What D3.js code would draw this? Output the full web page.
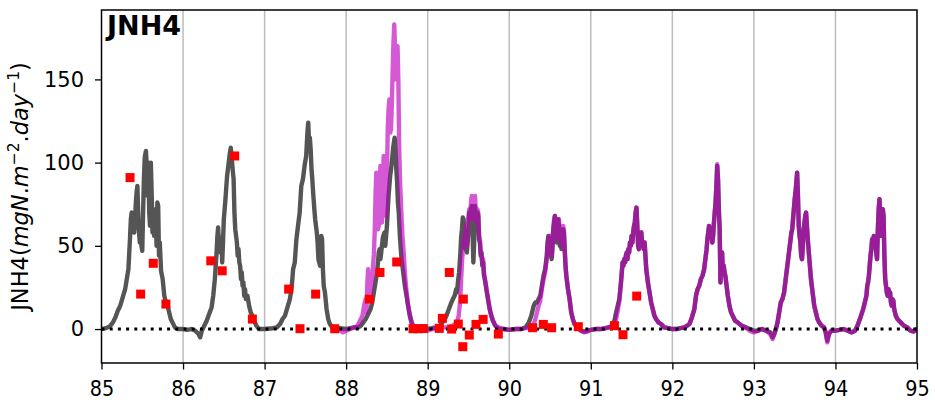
<!DOCTYPE html>
<html>
<head>
<meta charset="utf-8">
<script src="https://cdn.jsdelivr.net/npm/d3@7"></script>
<style>
  html, body { margin: 0; padding: 0; background: #fff; }
  svg { display: block; }
  text { font-family: "DejaVu Sans", sans-serif; }
</style>
</head>
<body>
<svg id="chart" width="935" height="405"></svg>
<script>
// ---------------- DATA ----------------
const chartTitle = "JNH4";
const xTicks = [85, 86, 87, 88, 89, 90, 91, 92, 93, 94, 95];
const yTicks = [0, 50, 100, 150];

// Model run 1 (grey) : [year, value]
const runGrey = [
[85.00,0],[85.05,0.5],[85.10,1.5],[85.14,4],[85.17,7],[85.20,11],[85.23,14],[85.26,19],[85.29,24],[85.31,30],[85.33,36],
[85.35,55],[85.36,66],[85.37,70],[85.38,60],[85.39,66],[85.40,58],[85.41,64],[85.42,75],[85.43,82],[85.44,86],[85.45,70],
[85.46,58],[85.47,52],[85.48,60],[85.49,50],[85.50,47],[85.51,70],[85.52,90],[85.53,103],[85.545,107],[85.555,98],[85.565,80],
[85.575,100],[85.585,70],[85.595,62],[85.605,100],[85.615,82],[85.625,58],[85.635,72],[85.645,56],[85.655,62],[85.665,72],
[85.675,50],[85.685,76],[85.695,74],[85.705,44],[85.715,52],[85.73,35],[85.75,30],[85.77,20],[85.79,16],[85.81,14],[85.83,10],
[85.85,6],[85.87,4],[85.90,1],[85.93,0],[86.00,0],[86.05,-0.5],[86.10,0],[86.15,-1],[86.19,-3],[86.21,-5],[86.23,-1],[86.26,2],
[86.29,5],[86.32,9],[86.35,13],[86.37,20],[86.39,30],[86.41,45],[86.42,55],[86.43,61],[86.44,52],[86.45,48],[86.46,46],[86.47,55],
[86.48,40],[86.49,52],[86.50,66],[86.52,78],[86.54,92],[86.56,100],[86.575,106],[86.585,109],[86.595,104],[86.61,95],[86.62,90],
[86.63,70],[86.64,60],[86.65,56],[86.66,52],[86.67,44],[86.68,48],[86.69,40],[86.70,38],[86.71,30],[86.72,34],[86.73,26],[86.74,28],
[86.75,20],[86.76,24],[86.77,18],[86.79,20],[86.81,14],[86.83,10],[86.85,8],[86.87,5],[86.90,2],[86.93,0],[87.00,0],[87.10,0.5],
[87.15,1],[87.19,3],[87.22,6],[87.25,8],[87.28,13],[87.31,18],[87.33,24],[87.35,36],[87.37,40],[87.39,54],[87.41,62],[87.43,70],
[87.45,86],[87.47,90],[87.49,98],[87.51,104],[87.525,118],[87.535,124],[87.545,112],[87.555,115],[87.565,108],[87.575,96],[87.585,90],
[87.595,82],[87.61,72],[87.62,66],[87.63,62],[87.64,58],[87.65,52],[87.66,42],[87.67,40],[87.68,38],[87.695,56],[87.705,54],[87.715,36],
[87.725,26],[87.74,22],[87.76,12],[87.78,6],[87.80,3],[87.83,1],[87.87,0],[87.92,0.5],[88.00,0],[88.05,0.5],[88.10,1],[88.15,1],
[88.18,2],[88.21,4],[88.24,6],[88.27,9],[88.30,12],[88.32,16],[88.34,22],[88.36,28],[88.38,34],[88.40,46],[88.41,48],[88.42,42],
[88.43,46],[88.45,55],[88.47,58],[88.48,50],[88.50,62],[88.52,80],[88.54,92],[88.56,100],[88.575,108],[88.585,112],[88.595,115],
[88.605,108],[88.615,96],[88.625,88],[88.635,76],[88.645,70],[88.66,55],[88.67,48],[88.68,42],[88.69,38],[88.70,34],[88.72,26],
[88.74,20],[88.76,14],[88.78,8],[88.80,4],[88.83,1],[88.87,0],[88.92,0],[88.98,0],[89.05,0.5],[89.10,1],[89.15,2],[89.18,4],
[89.21,6],[89.23,8],[89.26,12],[89.29,16],[89.31,18],[89.33,20],[89.35,24],[89.36,22],[89.37,28],[89.385,34],[89.40,45],[89.41,55],
[89.42,60],[89.43,67],[89.44,66],[89.45,55],[89.46,48],[89.47,56],[89.48,46],[89.49,52],[89.50,60],[89.51,70],[89.52,64],[89.53,72],
[89.54,74],[89.55,58],[89.56,40],[89.57,52],[89.58,74],[89.59,64],[89.60,60],[89.61,70],[89.62,68],[89.63,54],[89.64,52],[89.65,44],
[89.66,46],[89.67,38],[89.68,40],[89.69,32],[89.70,30],[89.72,24],[89.74,18],[89.76,12],[89.78,8],[89.80,5],[89.83,2],[89.87,0],
[89.93,0],[90.00,-0.5],[90.08,0],[90.15,0],[90.20,1],[90.24,4],[90.27,8],[90.30,14],[90.32,16],[90.34,16],[90.36,18],[90.38,20],
[90.40,26],[90.42,32],[90.44,36],[90.46,44],[90.47,52],[90.48,56],[90.49,50],[90.50,54],[90.51,45],[90.52,42],[90.53,48],[90.54,60],
[90.55,64],[90.56,68],[90.57,62],[90.58,52],[90.59,58],[90.60,66],[90.61,62],[90.62,50],[90.63,56],[90.64,48],[90.65,56],[90.66,60],
[90.67,58],[90.68,48],[90.69,38],[90.70,32],[90.72,24],[90.74,18],[90.76,10],[90.78,6],[90.80,3],[90.84,1],[90.88,-1],[90.92,-1.5],
[90.96,-1],[91.00,-0.5],[91.06,0],[91.12,0],[91.18,0.5],[91.22,1],[91.26,2],[91.29,5],[91.31,10],[91.33,14],[91.35,18],[91.37,28],
[91.38,34],[91.39,40],[91.40,38],[91.41,42],[91.42,40],[91.43,44],[91.44,46],[91.45,42],[91.46,48],[91.47,46],[91.48,52],[91.49,50],
[91.50,56],[91.51,52],[91.52,58],[91.53,62],[91.54,64],[91.55,70],[91.56,73],[91.57,62],[91.58,50],[91.59,48],[91.60,56],[91.61,52],
[91.62,58],[91.63,50],[91.64,52],[91.65,48],[91.66,52],[91.67,44],[91.68,36],[91.69,32],[91.70,28],[91.72,22],[91.74,16],[91.76,12],
[91.78,8],[91.80,6],[91.83,4],[91.86,3],[91.90,1],[91.95,0.5],[92.00,0],[92.05,0],[92.10,0.5],[92.15,1],[92.18,2],[92.21,3],
[92.24,7],[92.27,12],[92.29,20],[92.31,24],[92.33,26],[92.35,30],[92.37,32],[92.39,36],[92.41,44],[92.42,48],[92.43,54],[92.44,58],
[92.45,62],[92.46,60],[92.47,56],[92.48,58],[92.49,52],[92.50,56],[92.51,64],[92.52,70],[92.53,76],[92.54,86],[92.55,98],[92.56,90],
[92.57,72],[92.58,60],[92.59,28],[92.60,42],[92.61,46],[92.62,34],[92.63,38],[92.64,34],[92.65,32],[92.66,28],[92.67,24],[92.68,20],
[92.70,14],[92.72,10],[92.74,8],[92.77,5],[92.80,4],[92.85,2],[92.90,1],[92.95,0],[93.00,-1],[93.05,-1],[93.10,0],[93.15,-1],
[93.20,-2],[93.23,-5],[93.25,-3],[93.27,0],[93.29,4],[93.31,10],[93.33,16],[93.35,18],[93.37,22],[93.39,30],[93.41,38],[93.42,42],
[93.43,46],[93.44,50],[93.45,54],[93.46,58],[93.47,60],[93.48,66],[93.49,72],[93.50,78],[93.51,82],[93.52,88],[93.53,94],[93.54,80],
[93.55,62],[93.56,56],[93.57,52],[93.58,44],[93.59,42],[93.60,50],[93.61,60],[93.62,64],[93.63,68],[93.64,70],[93.65,62],[93.66,54],
[93.67,48],[93.68,42],[93.69,36],[93.70,30],[93.72,22],[93.74,14],[93.76,10],[93.78,6],[93.80,4],[93.83,2],[93.86,1],[93.88,-2],
[93.90,-7],[93.92,-3],[93.95,-1],[94.00,-1],[94.05,-0.5],[94.10,0],[94.15,-1],[94.20,-2],[94.24,-1],[94.27,2],[94.30,6],[94.32,9],
[94.34,12],[94.36,16],[94.38,20],[94.39,26],[94.40,28],[94.41,32],[94.42,38],[94.43,44],[94.44,48],[94.45,54],[94.46,50],[94.47,56],
[94.48,54],[94.49,52],[94.50,46],[94.51,42],[94.52,60],[94.53,72],[94.54,78],[94.55,64],[94.56,56],[94.57,62],[94.58,72],[94.59,68],
[94.60,44],[94.61,30],[94.62,26],[94.63,22],[94.64,20],[94.65,24],[94.66,20],[94.67,22],[94.68,16],[94.69,14],[94.70,18],[94.71,17],
[94.72,12],[94.74,8],[94.76,6],[94.78,5],[94.80,4],[94.84,2],[94.88,1],[94.92,-1],[94.96,-1.5],[95.00,0]
];

// Model run 2 (magenta, semi-transparent) : [year, value]
const runMagenta = [
[87.90,0],[87.93,-1],[87.96,-2],[88.00,-1],[88.05,0],[88.10,1],[88.14,2],[88.17,5],[88.20,8],[88.22,14],[88.24,18],[88.25,10],
[88.26,28],[88.27,36],[88.28,24],[88.30,22],[88.32,30],[88.34,45],[88.35,58],[88.36,80],[88.37,94],[88.38,70],[88.39,60],[88.40,62],
[88.41,82],[88.42,98],[88.43,80],[88.44,64],[88.45,88],[88.46,104],[88.47,96],[88.48,72],[88.49,68],[88.50,90],[88.51,120],[88.52,132],
[88.53,138],[88.54,118],[88.55,120],[88.56,135],[88.57,155],[88.58,172],[88.59,183],[88.60,168],[88.61,150],[88.62,160],[88.63,170],
[88.64,150],[88.65,110],[88.66,90],[88.67,78],[88.68,66],[88.69,56],[88.70,50],[88.71,42],[88.72,34],[88.73,28],[88.74,23],[88.76,14],
[88.78,9],[88.80,5],[88.82,2],[88.85,0],[88.90,0],[88.95,-0.5],[89.00,-1],[89.05,0],[89.10,0],[89.15,0.5],[89.20,1],[89.25,1],
[89.30,2],[89.34,3],[89.36,4],[89.38,8],[89.40,18],[89.41,30],[89.42,40],[89.43,47],[89.44,52],[89.45,56],[89.46,55],[89.47,62],
[89.48,50],[89.49,64],[89.50,68],[89.51,72],[89.52,66],[89.53,76],[89.54,80],[89.55,72],[89.56,66],[89.57,74],[89.58,80],[89.59,70],
[89.60,64],[89.61,72],[89.62,70],[89.63,56],[89.64,54],[89.65,46],[89.66,44],[89.67,40],[89.68,42],[89.69,34],[89.70,31],[89.72,24],
[89.74,18],[89.76,12],[89.78,8],[89.80,5],[89.83,2],[89.87,1],[89.93,0],[90.00,-0.5],[90.08,0],[90.15,0],[90.20,0.5],[90.25,1],
[90.28,2],[90.30,3],[90.32,6],[90.34,10],[90.36,14],[90.38,17],[90.40,24],[90.42,30],[90.44,34],[90.46,42],[90.47,50],[90.48,55],
[90.49,52],[90.50,56],[90.51,50],[90.52,44],[90.53,52],[90.54,60],[90.55,66],[90.56,68],[90.57,60],[90.58,54],[90.59,58],[90.60,64],
[90.61,66],[90.62,54],[90.63,58],[90.64,50],[90.65,56],[90.66,62],[90.67,60],[90.68,48],[90.69,38],[90.70,32],[90.72,24],[90.74,18],
[90.76,10],[90.78,6],[90.80,3],[90.84,1],[90.88,-1],[90.92,-2],[90.96,-1.5],[91.00,-0.5],[91.06,0],[91.12,0],[91.18,0.5],[91.22,1],
[91.26,1.5],[91.29,3],[91.31,6],[91.33,11],[91.35,17],[91.37,28],[91.38,34],[91.39,40],[91.40,38],[91.41,42],[91.42,40],[91.43,44],
[91.44,46],[91.45,42],[91.46,48],[91.47,46],[91.48,52],[91.49,50],[91.50,56],[91.51,52],[91.52,58],[91.53,62],[91.54,64],[91.55,70],
[91.56,73],[91.57,62],[91.58,50],[91.59,48],[91.60,56],[91.61,52],[91.62,58],[91.63,50],[91.64,52],[91.65,48],[91.66,52],[91.67,44],
[91.68,36],[91.69,32],[91.70,28],[91.72,22],[91.74,16],[91.76,12],[91.78,8],[91.80,6],[91.83,4],[91.86,3],[91.90,1],[91.95,0.5],
[92.00,0],[92.05,0],[92.10,0.5],[92.15,1],[92.18,2],[92.21,3],[92.24,7],[92.27,12],[92.29,20],[92.31,24],[92.33,26],[92.35,30],
[92.37,32],[92.39,36],[92.41,44],[92.42,48],[92.43,54],[92.44,58],[92.45,62],[92.46,60],[92.47,56],[92.48,58],[92.49,52],[92.50,56],
[92.51,64],[92.52,70],[92.53,76],[92.54,86],[92.55,99],[92.56,90],[92.57,72],[92.58,60],[92.59,28],[92.60,42],[92.61,46],[92.62,34],
[92.63,38],[92.64,34],[92.65,32],[92.66,28],[92.67,24],[92.68,20],[92.70,14],[92.72,10],[92.74,8],[92.77,5],[92.80,4],[92.85,2],
[92.90,1],[92.95,-1],[93.00,-2],[93.05,-1],[93.10,0],[93.15,-1],[93.20,-3],[93.23,-6],[93.25,-3],[93.27,0],[93.29,4],[93.31,10],
[93.33,16],[93.35,18],[93.37,22],[93.39,30],[93.41,38],[93.42,42],[93.43,46],[93.44,50],[93.45,54],[93.46,58],[93.47,60],[93.48,66],
[93.49,72],[93.50,78],[93.51,82],[93.52,88],[93.53,94],[93.54,80],[93.55,62],[93.56,56],[93.57,52],[93.58,44],[93.59,42],[93.60,50],
[93.61,60],[93.62,64],[93.63,68],[93.64,70],[93.65,62],[93.66,54],[93.67,48],[93.68,42],[93.69,36],[93.70,30],[93.72,22],[93.74,14],
[93.76,10],[93.78,6],[93.80,4],[93.83,2],[93.86,1],[93.88,-2],[93.90,-8],[93.92,-3],[93.95,-1],[94.00,-1],[94.05,-0.5],[94.10,0],
[94.15,-1],[94.20,-2],[94.24,-1],[94.27,2],[94.30,6],[94.32,9],[94.34,12],[94.36,16],[94.38,20],[94.39,26],[94.40,28],[94.41,32],
[94.42,38],[94.43,44],[94.44,48],[94.45,54],[94.46,50],[94.47,56],[94.48,54],[94.49,52],[94.50,46],[94.51,42],[94.52,60],[94.53,72],
[94.54,78],[94.55,64],[94.56,56],[94.57,62],[94.58,72],[94.59,68],[94.60,44],[94.61,30],[94.62,26],[94.63,22],[94.64,20],[94.65,24],
[94.66,20],[94.67,22],[94.68,16],[94.69,14],[94.70,18],[94.71,17],[94.72,12],[94.74,8],[94.76,6],[94.78,5],[94.80,4],[94.84,2],
[94.88,1],[94.92,-1],[94.96,-1.5],[95.00,0]
];

// Observations (red squares) : [year, value]
const observations = [
[85.35,91],[85.48,21],[85.635,39.5],[85.79,15],
[86.34,41],[86.48,35],[86.633,104],[86.85,6],
[87.295,24],[87.434,0.2],[87.626,21],[87.86,0.2],
[88.284,18],[88.415,34],[88.62,40.3],[88.82,0.2],[88.885,0.2],[88.946,0.3],
[89.142,0.4],[89.18,6.4],[89.265,34],[89.294,0],[89.375,3],[89.437,18],[89.43,-10.6],[89.51,-3.6],[89.592,2.8],[89.68,5.8],[89.866,-3],
[90.287,0.8],[90.418,2.8],[90.52,0.8],[90.847,1.4],
[91.29,2],[91.395,-3.4],[91.563,19.8]
];

// ---------------- CHART ----------------
const svg = d3.select("#chart");
const L = 101.5, R = 917, T = 10, B = 363;
const x = d3.scaleLinear().domain([85, 95]).range([L, R]);
const y = d3.scaleLinear().domain([-20.4, 191.7]).range([B, T]);

// vertical grid
svg.append("g").selectAll("line").data(xTicks.slice(1, -1)).join("line")
  .attr("x1", d => x(d)).attr("x2", d => x(d))
  .attr("y1", T).attr("y2", B)
  .attr("stroke", "#bcbcbc").attr("stroke-width", 1.5);

svg.append("clipPath").attr("id", "plotclip")
  .append("rect").attr("x", L).attr("y", T).attr("width", R - L).attr("height", B - T);

const plot = svg.append("g").attr("clip-path", "url(#plotclip)");
const line = d3.line().x(d => x(d[0])).y(d => y(d[1]));

plot.append("path").datum(runGrey)
  .attr("d", line).attr("fill", "none")
  .attr("stroke", "#555555").attr("stroke-width", 4.4)
  .attr("stroke-linejoin", "round").attr("stroke-linecap", "round");

plot.append("path").datum(runMagenta)
  .attr("d", line).attr("fill", "none")
  .attr("stroke", "#bf00bf").attr("stroke-opacity", 0.65).attr("stroke-width", 4.4)
  .attr("stroke-linejoin", "round").attr("stroke-linecap", "round");

// zero reference line (dotted)
plot.append("line")
  .attr("x1", x(85)).attr("x2", x(95)).attr("y1", y(0)).attr("y2", y(0))
  .attr("stroke", "#000").attr("stroke-width", 3)
  .attr("stroke-dasharray", "3,5.2");

// observations
const sq = 9;
plot.append("g").selectAll("rect").data(observations).join("rect")
  .attr("x", d => x(d[0]) - sq / 2).attr("y", d => y(d[1]) - sq / 2)
  .attr("width", sq).attr("height", sq).attr("fill", "#ff0000");

// axes
const xAxis = d3.axisBottom(x).tickValues(xTicks).tickFormat(d3.format("d"))
  .tickSize(6.5).tickPadding(12);
const gx = svg.append("g").attr("transform", `translate(0,${B})`).call(xAxis);
gx.select(".domain").remove();
gx.selectAll("line").attr("stroke", "#000").attr("stroke-width", 1.3);
gx.selectAll("text").attr("font-size", 21).attr("fill", "#000")
  .attr("font-family", "DejaVu Sans").attr("textLength", 24.5).attr("lengthAdjust", "spacingAndGlyphs");

const yAxis = d3.axisLeft(y).tickValues(yTicks).tickSize(6.5).tickPadding(11);
const gy = svg.append("g").attr("transform", `translate(${L},0)`).call(yAxis);
gy.select(".domain").remove();
gy.selectAll("line").attr("stroke", "#000").attr("stroke-width", 1.3);
gy.selectAll("text").attr("font-size", 21).attr("fill", "#000").attr("font-family", "DejaVu Sans");

// frame
svg.append("rect").attr("x", L).attr("y", T).attr("width", R - L).attr("height", B - T)
  .attr("fill", "none").attr("stroke", "#000").attr("stroke-width", 1.5);

// title
svg.append("text").attr("x", 107).attr("y", 35)
  .attr("font-size", 27).attr("font-weight", "bold").attr("fill", "#000")
  .text(chartTitle);

// y label
const yl = svg.append("text")
  .attr("transform", `translate(28,${(T + B) / 2}) rotate(-90)`)
  .attr("text-anchor", "middle").attr("font-size", 22.5).attr("fill", "#000");
yl.append("tspan").text("JNH4(");
yl.append("tspan").attr("font-style", "italic").text("mgN");
yl.append("tspan").text(".");
yl.append("tspan").attr("font-style", "italic").text("m");
yl.append("tspan").attr("font-size", 15.5).attr("dy", -9).text("\u22122");
yl.append("tspan").attr("dy", 9).text(".");
yl.append("tspan").attr("font-style", "italic").text("day");
yl.append("tspan").attr("font-size", 15.5).attr("dy", -9).text("\u22121");
yl.append("tspan").attr("dy", 9).text(")");
</script>
</body>
</html>
